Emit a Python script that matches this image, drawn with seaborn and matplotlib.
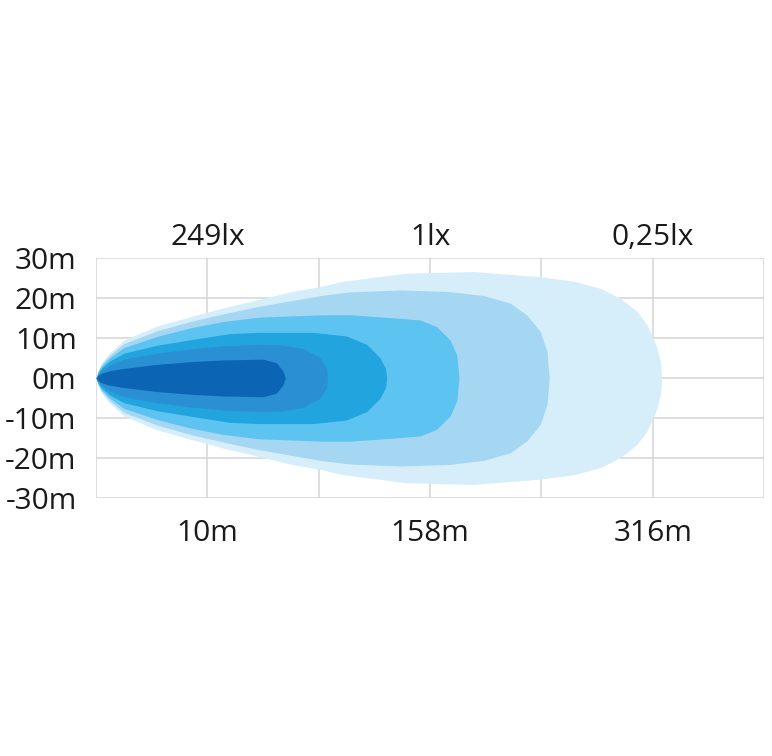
import matplotlib
matplotlib.use("Agg")
import matplotlib.pyplot as plt
import seaborn as sns

# grid positions (one column per 0..6) and the labels printed on them
bottom_labels = ["10m", "158m", "316m"]
top_labels = ["249lx", "1lx", "0,25lx"]
label_pos = [1, 3, 5]
y_ticks = [30, 20, 10, 0, -10, -20, -30]

# beam lobes, outer to inner: distance (grid units) and half width (m)
lobe1_x = [0, 0.02, 0.05, 0.12, 0.25, 0.55, 0.86, 1.14, 1.46, 1.74, 2.04, 2.2, 2.79, 3.39, 3.99,
           4.29, 4.53, 4.71, 4.86, 4.95, 5.03, 5.07, 5.08]
lobe1_h = [0, 2.0, 3.8, 6.2, 9.5, 13.0, 15.4, 17.5, 19.6, 21.5, 23.0, 24.1, 26.2, 26.6, 25.3,
           24.2, 22.4, 19.9, 16.6, 13.2, 8.2, 4.1, 0]

lobe2_x = [0, 0.02, 0.05, 0.12, 0.25, 0.55, 0.86, 1.14, 1.46, 2.04, 2.28, 2.73, 3.18, 3.48, 3.72,
           3.87, 3.99, 4.05, 4.07]
lobe2_h = [0, 1.8, 3.4, 5.6, 8.6, 11.8, 14.2, 16.0, 17.9, 20.7, 21.5, 22.0, 21.6, 20.6, 18.7,
           15.7, 11.6, 6.6, 0]

lobe3_x = [0, 0.02, 0.05, 0.12, 0.25, 0.55, 0.86, 1.14, 1.46, 2.04, 2.28, 2.73, 2.91, 3.06, 3.18,
           3.24, 3.26]
lobe3_h = [0, 1.6, 3.0, 5.0, 7.6, 10.4, 12.6, 14.1, 15.2, 15.8, 15.8, 14.9, 14.5, 12.8, 9.5,
           5.7, 0]

lobe4_x = [0, 0.02, 0.05, 0.12, 0.25, 0.55, 0.86, 1.20, 1.46, 1.95, 2.25, 2.43, 2.55, 2.60, 2.61]
lobe4_h = [0, 1.3, 2.5, 4.2, 6.2, 8.2, 9.6, 11.1, 11.4, 11.4, 10.5, 8.4, 5.1, 2.4, 0]

lobe5_x = [0, 0.02, 0.05, 0.12, 0.25, 0.55, 0.86, 1.14, 1.46, 1.65, 1.86, 2.01, 2.07, 2.08]
lobe5_h = [0, 1.0, 1.9, 3.2, 4.7, 6.2, 7.3, 8.0, 8.4, 8.3, 7.4, 5.1, 2.4, 0]

lobe6_x = [0, 0.02, 0.05, 0.12, 0.25, 0.55, 0.86, 1.14, 1.50, 1.62, 1.68, 1.70]
lobe6_h = [0, 0.7, 1.2, 1.8, 2.4, 3.4, 4.1, 4.5, 4.7, 3.8, 1.7, 0]

lobe_colors = ["#d5eef9", "#a5d6f2", "#5dc3f0", "#22a5de", "#2b8fd3", "#0b65b4"]

sns.set_theme(style="white")
plt.rcParams['font.family'] = ['Open Sans', 'DejaVu Sans']
txt_color = "#1a1a1a"

fig = plt.figure(figsize=(7.72, 7.56), dpi=100)
ax = fig.add_axes([0.1244, 0.3413, 0.8653, 0.3175])

# grid first, beam drawn on top
for gx in range(0, 7):
    ax.axvline(gx, color="#d4d4d4", lw=1.1, zorder=0)
for gy in y_ticks:
    ax.axhline(gy, color="#d4d4d4", lw=1.1, zorder=0)

lobes = [(lobe1_x, lobe1_h), (lobe2_x, lobe2_h), (lobe3_x, lobe3_h),
         (lobe4_x, lobe4_h), (lobe5_x, lobe5_h), (lobe6_x, lobe6_h)]
for (lx, lh), col in zip(lobes, lobe_colors):
    ax.fill_between(lx, [-v for v in lh], lh, color=col, lw=0, zorder=2)

ax.set_xlim(0, 6)
ax.set_ylim(-30, 30)
ax.set_yticks(y_ticks)
ax.set_yticklabels([f"{v}m" for v in y_ticks], fontsize=21.5, color=txt_color)
ax.set_xticks(label_pos)
ax.set_xticklabels(bottom_labels, fontsize=21.5, color=txt_color)
ax.tick_params(axis="x", length=0, pad=15)
ax.tick_params(axis="y", length=0, pad=14)

sec = ax.secondary_xaxis("top")
sec.set_xticks(label_pos)
sec.set_xticklabels(top_labels, fontsize=21.5, color=txt_color)
sec.tick_params(length=0, pad=4)
for s in sec.spines.values():
    s.set_visible(False)

sns.despine(ax=ax, left=True, bottom=True)

fig.savefig("out.png", dpi=100)
